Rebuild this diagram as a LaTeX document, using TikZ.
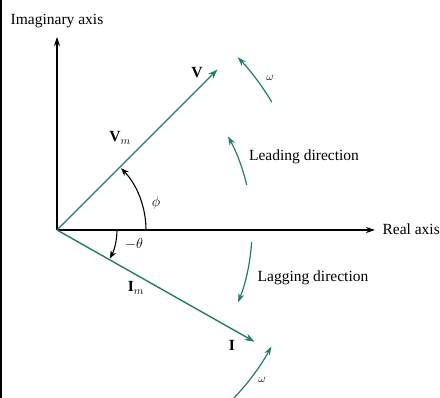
\documentclass[tikz,border=0pt]{standalone}
\usepackage{fontspec}
\setmainfont{Liberation Serif}
\usetikzlibrary{arrows.meta,calc}
\definecolor{teal2}{RGB}{26,128,110}
\begin{document}
\begin{tikzpicture}[x=1pt,y=1pt,
  axis/.style={line width=1.2pt,-{Stealth[length=9pt,width=6pt]}},
  vec/.style={draw=teal2,line width=1.4pt,-{Stealth[length=10pt,width=7pt]}},
  rot/.style={draw=teal2,line width=1.2pt,-{Stealth[length=9pt,width=6pt]}},
  ang/.style={draw=black,line width=1.1pt,-{Stealth[length=8pt,width=6pt]}},
  lbl/.style={font=\fontsize{15.5}{18}\selectfont},
  sml/.style={font=\fontsize{11}{13}\selectfont}]
\useasboundingbox (0,0) rectangle (440,398);
\draw[line width=2pt] (1,0) -- (1,398);
\coordinate (O) at (57,168);
\coordinate (Itop) at (57,361);
\coordinate (Rend) at (375,168);
\draw[axis] (O) -- (Itop);
\draw[axis] (O) -- (Rend);
\node[lbl] (ia) at (57,377) {Imaginary axis};
\node[lbl,anchor=west] (ra) at (379,169) {Real axis};
\coordinate (Vt) at ($(O)+(45:227)$);
\coordinate (It) at ($(O)+(-29.5:227)$);
\draw[vec] (O) -- (Vt);
\draw[vec] (O) -- (It);
% angle arcs
\draw[ang] ($(O)+(0:89)$) arc[start angle=0,end angle=44,radius=89];
\draw[ang] ($(O)+(0:60)$) arc[start angle=0,end angle=-28.5,radius=60];
% rotation arcs
\draw[rot] ($(O)+(30.8:250)$) arc[start angle=30.8,end angle=43.7,radius=250];
\draw[rot] ($(O)+(13.3:195)$) arc[start angle=13.3,end angle=28.7,radius=195];
\draw[rot] ($(O)+(-3.5:195)$) arc[start angle=-3.5,end angle=-21.8,radius=195];
\draw[rot] ($(O)+(-46:244)$) arc[start angle=-46,end angle=-28.5,radius=244];
% labels
\node[lbl] (vl) at (197,325) {\textbf{V}};
\node[lbl] (vml) at (120,260) {\textbf{V}$_m$};
\node[lbl] (phl) at (156,195) {$\phi$};
\node[lbl] (thl) at (134,154) {$-\theta$};
\node[lbl] (iml) at (136,110) {\textbf{I}$_m$};
\node[lbl] (il) at (232,53) {\textbf{I}};
\node[sml] (w1) at (270,320) {$\omega$};
\node[sml] (w2) at (262,18) {$\omega$};
\node[lbl] (ld) at (304,241) {Leading direction};
\node[lbl] (lg) at (313,120) {Lagging direction};
\end{tikzpicture}
\end{document}
